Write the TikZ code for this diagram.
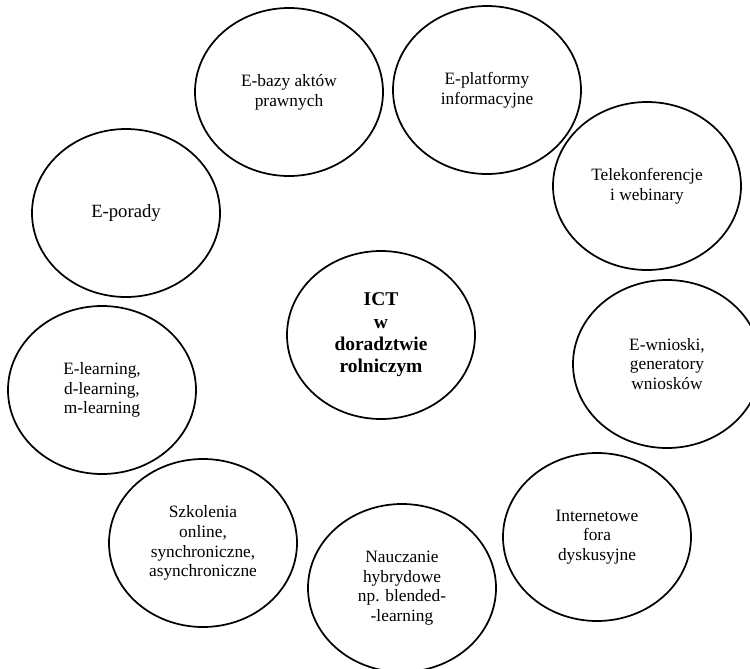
\documentclass[tikz,border=0pt]{standalone}
\usepackage{fontspec}
\setmainfont{Liberation Serif}
\usetikzlibrary{shapes.geometric}
\tikzstyle{bubble}=[ellipse,draw,line width=1.3pt,minimum width=141pt,minimum height=126pt,inner sep=0pt,align=center,font=\fontsize{13}{14.8}\selectfont]
\tikzstyle{hub}=[font=\fontsize{14.6}{16.7}\selectfont\bfseries]
\tikzstyle{single}=[font=\fontsize{14}{16}\selectfont]

\begin{document}
\begin{tikzpicture}[x=0.75pt,y=-0.75pt]
\useasboundingbox (0,0) rectangle (750,668);
\node[bubble,hub] (ict) at (381,335) {ICT\\w\\doradztwie\\rolniczym};
\node[bubble,single] (por) at (126,213) {E-porady};
\foreach \n/\x/\y/\t in {baz/289/92/{E-bazy aktów\\prawnych}, pla/487/90/{E-platformy\\informacyjne}, tel/647/186/{Telekonferencje\\i webinary}, wni/667/364/{E-wnioski,\\generatory\\wniosków}, lea/102/390/{E-learning,\\d-learning,\\m-learning}, for/597/537/{Internetowe\\fora\\dyskusyjne}, szk/203/543/{Szkolenia\\online,\\synchroniczne,\\asynchroniczne}, nau/402/588/{Nauczanie\\hybrydowe\\np. blended-\\-learning}}
    \node[bubble] (\n) at (\x,\y) {\t};
\end{tikzpicture}
\end{document}
